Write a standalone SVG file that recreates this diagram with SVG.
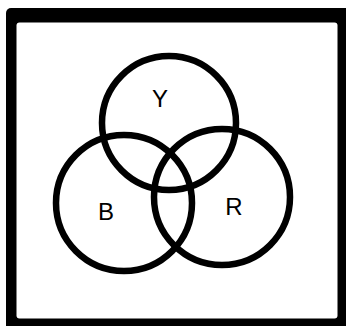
<svg xmlns="http://www.w3.org/2000/svg" width="346" height="326" viewBox="0 0 346 326">
<style>
.ring{fill:none;stroke:#000;stroke-width:6.5}
.lbl{font-family:"Liberation Sans",Arial,sans-serif;font-size:24px;fill:#000;text-anchor:middle}
</style>
<rect width="346" height="326" fill="#fff"/>
<g id="frame">
<rect x="6" y="8" width="346" height="324" rx="5" fill="#000"/>
<rect x="16.5" y="22.5" width="321" height="296" rx="3" fill="#fff"/>
</g>
<g id="Y"><circle class="ring" cx="169" cy="123" r="67"/><text class="lbl" x="160" y="107">Y</text></g>
<g id="B"><circle class="ring" cx="124" cy="203" r="68"/><text class="lbl" x="106" y="220">B</text></g>
<g id="R"><circle class="ring" cx="222" cy="197" r="68"/><text class="lbl" x="234" y="215">R</text></g>
</svg>
